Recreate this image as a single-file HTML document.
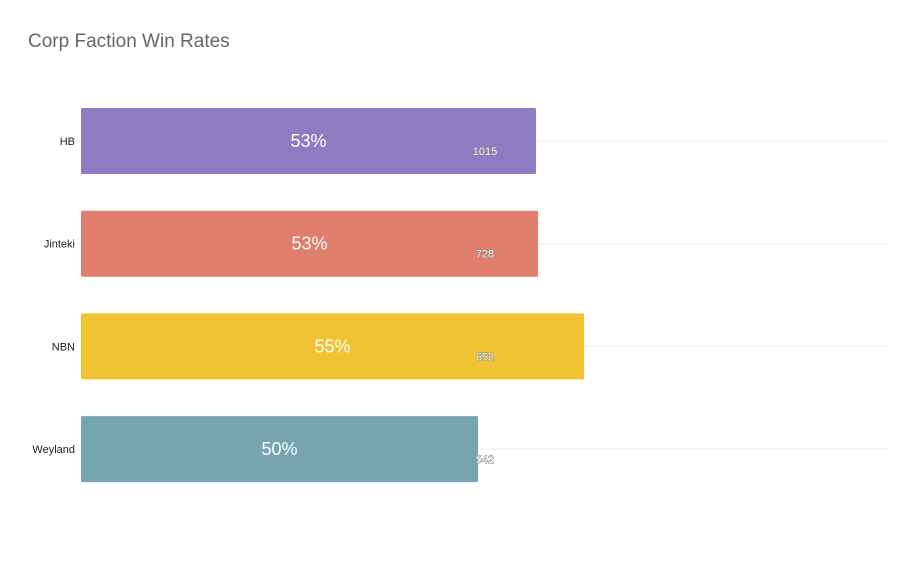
<!DOCTYPE html>
<html><head><meta charset="utf-8"><style>
body{margin:0;background:#fff;font-family:"Liberation Sans",sans-serif}
</style></head><body>
<svg width="917" height="567" id="c" xmlns="http://www.w3.org/2000/svg">
<text x="28" y="47" font-size="19" fill="#666">Corp Faction Win Rates</text>
<g id="plot"></g>
</svg>
<script>
const categories=["HB","Jinteki","NBN","Weyland"];
const winRates=[52.75,52.85,55.15,49.85];
const games=[1015,728,652,542];
const colors=["#8e7cc3","#e07f6d","#f1c232","#76a5af"];
const NS="http://www.w3.org/2000/svg";
const x0=81, domainMin=30, pxPer=20;
function xs(v){return x0+(v-domainMin)*pxPer;}
function yc(i){return 141+i*102.7;}
const g=document.getElementById('plot');
function el(t,a){const e=document.createElementNS(NS,t);for(const k in a)e.setAttribute(k,a[k]);g.appendChild(e);return e;}
categories.forEach((c,i)=>{
  const y=yc(i);
  const gl=el('line',{x1:x0,x2:888,y1:y,y2:y,stroke:'#ebebeb','stroke-width':1});
  
  
  const w=xs(winRates[i])-x0;
  const r=el('rect',{x:x0,y:y-33,width:w,height:66,fill:colors[i],rx:1.5});
  
  
  const lab=el('text',{x:75,y:y+4,'font-size':11,fill:'#222','text-anchor':'end'});
  lab.textContent=c;
  
  
  const p=el('text',{x:x0+w/2,y:y+6,'font-size':18,fill:'#fff','text-anchor':'middle'});
  p.textContent=Math.round(winRates[i])+'%';
  
  
  const n=el('text',{x:485,y:y+14,'font-size':11,fill:'#fff',stroke:'#777','stroke-width':0.9,'paint-order':'stroke','text-anchor':'middle'});
  n.textContent=games[i];
  
  
});
</script>
</body></html>
